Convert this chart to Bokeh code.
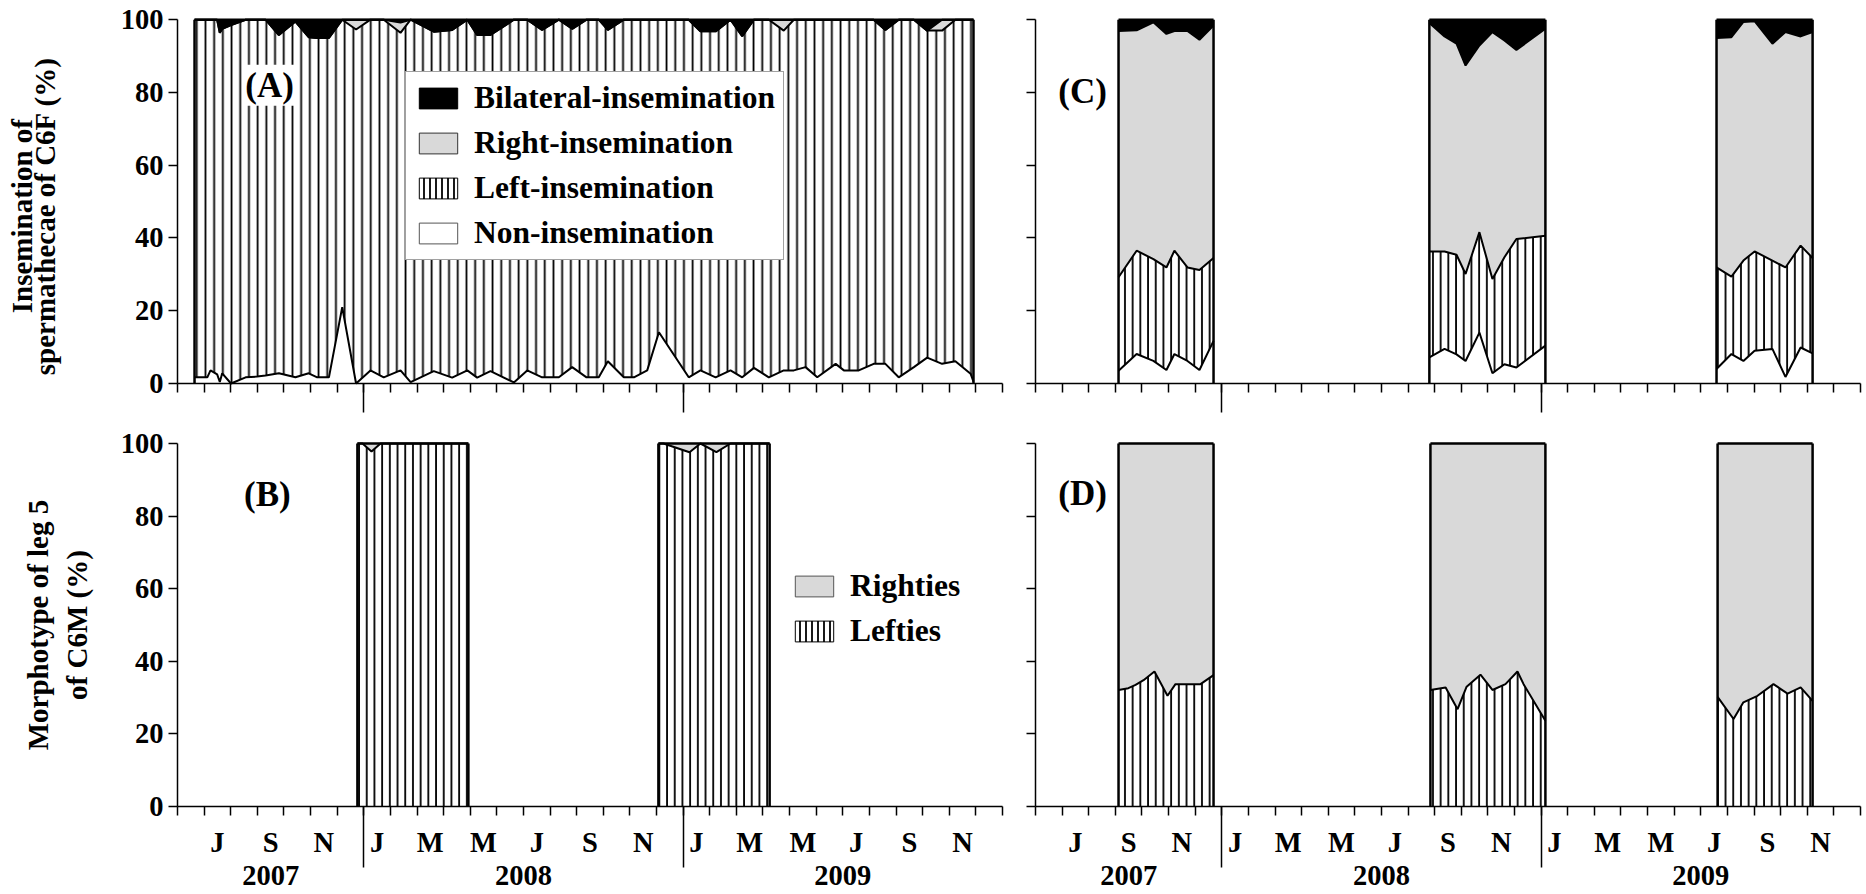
import numpy as np
from bokeh.plotting import figure
from bokeh.models import Range1d, FixedTicker, LinearAxis, Legend, LegendItem, Label
from bokeh.core.properties import value
from bokeh.layouts import row, column
from bokeh.embed import file_html
from bokeh.resources import INLINE

FONT = "Liberation Serif"
GREY = "#d9d9d9"
TICK_FS = "28.5px"

# ---------------- axis data (x = months since 1 June 2007; axis runs to end of Dec 2009)
month_bounds = list(range(0, 32))
year_bounds = [7, 19]
month_label_pos = [1.5, 3.5, 5.5, 7.5, 9.5, 11.5, 13.5, 15.5, 17.5, 19.5, 21.5, 23.5, 25.5, 27.5, 29.5]
month_labels = ["J", "S", "N", "J", "M", "M", "J", "S", "N", "J", "M", "M", "J", "S", "N"]
year_label_pos = [3.5, 13, 25]
year_labels = ["2007", "2008", "2009"]
y_ticks = [0, 20, 40, 60, 80, 100]

# ---------------- Panel A: insemination of spermathecae of C6F (%), continuous series
a_t = [0.64, 1.12, 1.24, 1.49, 1.59, 1.68, 2.01, 2.56, 2.99, 3.31,
       3.81, 4.43, 4.93, 5.25, 5.69, 6.19, 6.71, 7.25, 7.75, 8.38,
       8.76, 9.63, 10.32, 10.89, 11.26, 11.76, 12.64, 13.14, 13.70, 14.33,
       14.83, 15.37, 15.83, 16.17, 16.77, 17.15, 17.65, 18.09, 19.21, 19.65,
       20.22, 20.78, 21.22, 21.66, 22.22, 22.78, 23.16, 23.60, 24.04, 24.73,
       25.04, 25.60, 26.16, 26.60, 27.10, 27.67, 28.17, 28.73, 29.23, 29.80, 29.91]
a_non = [1.7, 1.7, 3.6, 2.5, 0.4, 2.8, 0.0, 1.7, 1.9, 2.2,
         2.8, 1.7, 2.8, 1.7, 1.7, 21.0, 0.0, 3.6, 1.7, 3.6,
         0.4, 3.4, 1.6, 3.6, 1.6, 3.4, 0.3, 3.6, 1.7, 1.7,
         4.5, 1.7, 1.7, 6.1, 1.7, 1.7, 3.6, 14.1, 1.7, 3.6,
         1.7, 3.6, 1.7, 4.3, 1.7, 3.6, 3.6, 4.5, 1.7, 5.4,
         3.6, 3.6, 5.4, 5.4, 1.7, 4.5, 7.1, 5.4, 6.1, 2.7, 0.5]
a_left = [98.3, 98.3, 96.4, 97.5, 96.0, 94.7, 98.5, 98.3, 98.1, 97.8,
          93.0, 97.8, 92.4, 93.3, 93.3, 79.0, 97.3, 96.4, 98.3, 92.8,
          99.6, 93.3, 95.6, 96.4, 94.2, 92.4, 99.7, 96.4, 95.5, 98.3,
          93.0, 98.3, 98.3, 91.1, 98.3, 98.3, 96.4, 85.9, 98.3, 93.2,
          95.1, 96.4, 93.8, 95.7, 98.3, 93.4, 96.4, 95.5, 98.3, 94.6,
          96.4, 96.4, 94.6, 91.8, 98.3, 95.5, 89.9, 91.6, 93.9, 97.3, 99.5]
a_right = [0, 0, 0, 0, 0, 0, 0, 0, 0, 0,
           0, 0, 0, 0, 0, 0, 2.7, 0, 0, 2.8,
           0, 0, 0, 0, 0, 0, 0, 0, 0, 0,
           0, 0, 0, 0, 0, 0, 0, 0, 0, 0,
           0, 0, 0, 0, 0, 3.0, 0, 0, 0, 0,
           0, 0, 0, 0, 0, 0, 0, 3.0, 0, 0, 0]
a_bil = [0, 0, 0, 0, 3.6, 2.5, 1.5, 0, 0, 0,
         4.2, 0.5, 4.8, 5.0, 5.0, 0, 0, 0, 0, 0.8,
         0, 3.3, 2.8, 0, 4.2, 4.2, 0, 0, 2.8, 0,
         2.5, 0, 0, 2.8, 0, 0, 0, 0, 0, 3.2,
         3.2, 0, 4.5, 0, 0, 0, 0, 0, 0, 0,
         0, 0, 0, 2.8, 0, 0, 3.0, 0, 0, 0, 0]

# ---------------- Panel B: morphotype of leg 5 of C6M (%), two sampling periods
b_t = [[6.76, 6.95, 7.29, 7.63, 10.93],
       [18.07, 18.26, 19.24, 19.65, 20.25, 20.78, 22.25]]
b_left = [[100, 100, 97.8, 100, 100],
          [100, 100, 97.6, 100, 97.6, 100, 100]]
b_right = [[0, 0, 2.2, 0, 0],
           [0, 0, 2.4, 0, 2.4, 0, 0]]

# ---------------- Panel C: insemination (%), three autumn periods
c_t = [[3.12, 3.80, 4.43, 4.92, 5.22, 5.71, 6.16, 6.69],
       [14.80, 15.37, 15.82, 16.16, 16.68, 17.17, 17.62, 18.07, 19.16],
       [25.59, 26.15, 26.60, 27.02, 27.69, 28.18, 28.75, 29.20]]
c_non = [[3.5, 8.1, 6.2, 3.7, 8.1, 6.2, 3.7, 11.7],
         [7.2, 9.5, 8.0, 6.2, 14.0, 2.8, 5.3, 4.4, 10.4],
         [4.0, 8.1, 6.2, 9.0, 9.5, 1.8, 9.9, 8.3]]
c_left = [[25.7, 28.4, 28.0, 28.2, 28.4, 25.7, 27.5, 22.8],
          [29.1, 26.8, 27.4, 23.9, 27.6, 25.9, 29.4, 35.3, 30.2],
          [27.9, 21.3, 27.6, 27.3, 24.3, 30.1, 28.0, 26.2]]
c_right = [[67.7, 60.6, 65.1, 64.2, 60.4, 65.0, 63.3, 63.9],
           [62.8, 59.1, 58.0, 57.3, 51.3, 67.9, 59.6, 52.0, 56.9],
           [63.1, 65.8, 65.6, 63.3, 59.6, 64.7, 57.5, 62.1]]
c_bil = [[3.1, 2.9, 0.7, 3.9, 3.1, 3.1, 5.5, 1.6],
         [0.9, 4.6, 6.6, 12.6, 7.1, 3.4, 5.7, 8.3, 2.5],
         [5.0, 4.8, 0.6, 0.4, 6.6, 3.4, 4.6, 3.4]]

# ---------------- Panel D: morphotype (%), three autumn periods
d_t = [[3.12, 3.49, 3.76, 4.06, 4.47, 4.96, 5.26, 5.52, 6.20, 6.69],
       [14.84, 15.41, 15.86, 16.20, 16.72, 17.17, 17.66, 18.11, 18.34, 19.16],
       [25.63, 26.23, 26.60, 27.13, 27.73, 28.26, 28.75, 29.20]]
d_left = [[32.1, 32.6, 33.5, 34.8, 37.2, 30.5, 33.7, 33.7, 33.7, 36.2],
          [32.1, 32.8, 26.8, 33.0, 36.3, 32.1, 33.7, 37.2, 33.7, 23.6],
          [30.2, 24.1, 28.7, 30.5, 33.7, 31.1, 32.8, 29.1]]
d_right = [[67.9, 67.4, 66.5, 65.2, 62.8, 69.5, 66.3, 66.3, 66.3, 63.8],
           [67.9, 67.2, 73.2, 67.0, 63.7, 67.9, 66.3, 62.8, 66.3, 76.4],
           [69.8, 75.9, 71.3, 69.5, 66.3, 68.9, 67.2, 70.9]]

HATCH = dict(fill_color="white", hatch_pattern="|", hatch_color="black", hatch_weight=1.8)
NAN = np.array([np.nan])

# pixel geometry of the page (origin top-left of the page)
PX_MONTH = 825 / 31.0          # px per month on both time axes


def make_fig(width, height, x_origin_px, y0_px, y100_px):
    """Frame fills the whole canvas; the axes are pinned at x=0 / y=0 inside it."""
    ppu = (y0_px - y100_px) / 100.0
    x_lo = -x_origin_px / PX_MONTH
    x_hi = (width - x_origin_px) / PX_MONTH
    y_hi = y0_px / ppu
    y_lo = (y0_px - height) / ppu
    p = figure(width=width, height=height, x_range=Range1d(x_lo, x_hi), y_range=Range1d(y_lo, y_hi),
               output_backend="svg", toolbar_location=None,
               x_axis_location=None, y_axis_location=None,
               min_border_left=0, min_border_right=0, min_border_top=0, min_border_bottom=0)
    p.outline_line_color = None
    p.background_fill_color = "white"
    p.border_fill_color = "white"
    p.xgrid.visible = False
    p.ygrid.visible = False
    return p


def txt(ax, size):
    ax.major_label_text_font = FONT
    ax.major_label_text_font_style = "bold"
    ax.major_label_text_font_size = size
    ax.major_label_text_color = "black"


def add_yaxis(p, labels):
    ax = LinearAxis(ticker=FixedTicker(ticks=y_ticks), bounds=(0, 100), fixed_location=0,
                    major_tick_out=9, major_tick_in=0, minor_tick_out=0, minor_tick_in=0,
                    axis_line_width=1.5, major_tick_line_width=1.5,
                    major_label_standoff=5)
    txt(ax, TICK_FS)
    if not labels:
        ax.major_label_overrides = {t: "" for t in y_ticks}
        ax.major_label_text_font_size = "0px"
        ax.major_label_standoff = 0
    p.add_layout(ax, "left")


def add_xaxis(p, sep_len):
    # minor ticks = month boundaries, long major ticks = year separators
    ax = LinearAxis(ticker=FixedTicker(ticks=year_bounds, minor_ticks=month_bounds), bounds=(0, 31),
                    fixed_location=0,
                    major_tick_out=sep_len, major_tick_in=0, minor_tick_out=9, minor_tick_in=0,
                    axis_line_width=1.5, major_tick_line_width=1.5, minor_tick_line_width=1.5,
                    major_label_standoff=0,
                    major_label_overrides={t: "" for t in year_bounds})
    txt(ax, "0px")
    p.add_layout(ax, "below")


def glyph_text(p, x, y, text, size, angle=0.0):
    p.text(x=x, y=y, text=text, angle=angle, text_align="center", text_baseline="middle",
           text_font=value(FONT), text_font_style="bold", text_font_size=value(size),
           text_color="black")


def add_time_labels(p):
    glyph_text(p, month_label_pos, [-9.9] * len(month_label_pos), month_labels, TICK_FS)
    glyph_text(p, year_label_pos, [-18.9] * len(year_label_pos), year_labels, TICK_FS)


def add_ytitle(p, lines, xs, y):
    glyph_text(p, xs, [y] * len(lines), lines, "29px", angle=np.pi / 2)


def panel_label(p, x, y, text, bg=None):
    lab = Label(x=x, y=y, text=text, text_align="center", text_baseline="middle",
                text_font=FONT, text_font_style="bold", text_font_size="35px", text_color="black")
    if bg:
        lab.background_fill_color = bg
        lab.padding = 1
    p.add_layout(lab)


def stack(p, t, layers, kinds, hscale):
    t = np.asarray(t, float)
    base = np.zeros_like(t)
    for vals, kind in zip(layers, kinds):
        top = base + np.asarray(vals, float)
        if kind == "hatch":
            p.varea(x=t, y1=base, y2=top, hatch_scale=hscale, **HATCH)
        else:
            p.varea(x=t, y1=base, y2=top, fill_color=kind)
        base = top
    cum = np.zeros_like(t)
    for vals in layers[:-1]:
        cum = cum + np.asarray(vals, float)
        p.line(t, cum, line_color="black", line_width=2)
    p.line(t, base, line_color="black", line_width=2.5)
    p.segment(x0=[t[0], t[-1]], y0=[0, 0], x1=[t[0], t[-1]], y1=[base[0], base[-1]],
              line_color="black", line_width=2.5)


def swatch(p, **kw):
    # legend key only (not drawn on the plot)
    return p.quad(left=NAN, right=NAN, top=NAN, bottom=NAN, line_width=1, **kw)


def legend(items, loc, pad, spacing):
    return Legend(items=items, location=loc, glyph_width=48, glyph_height=26, label_height=26,
                  label_standoff=12, spacing=spacing, padding=pad, margin=0,
                  label_text_font=FONT, label_text_font_style="bold", label_text_font_size="31.5px",
                  label_text_color="black")


# ---------------- Panel A  (canvas: x 0-1020, y 0-425; frame 0% at y=383, 100% at y=19.2, t=0 at x=177)
pA = make_fig(1020, 425, 177, 383.0, 19.2)
stack(pA, a_t, [a_non, a_left, a_right, a_bil], ["white", "hatch", GREY, "black"], 8.7)
add_yaxis(pA, True)
add_xaxis(pA, 29)
add_ytitle(pA, ["Insemination of", "spermathecae of C6F (%)"], [-5.84, -4.98], 46)
panel_label(pA, 3.46, 82.0, "(A)", bg="white")
rb = swatch(pA, fill_color="black", line_color="black")
rr = swatch(pA, fill_color=GREY, line_color="#333333")
rl = swatch(pA, line_color="black", hatch_scale=6, **HATCH)
rn = swatch(pA, fill_color="white", line_color="#555555")
legA = legend([LegendItem(label="Bilateral-insemination", renderers=[rb]),
               LegendItem(label="Right-insemination", renderers=[rr]),
               LegendItem(label="Left-insemination", renderers=[rl]),
               LegendItem(label="Non-insemination", renderers=[rn])], (405, 165), 8, 9)
legA.border_line_color = "#444444"
legA.border_line_width = 1
legA.background_fill_color = "white"
legA.background_fill_alpha = 1.0
pA.add_layout(legA)

# ---------------- Panel B  (canvas: y 425-894 -> local 0-469; 0% at 381, 100% at 18)
pB = make_fig(1020, 469, 177, 381.0, 18.0)
for t, l, r in zip(b_t, b_left, b_right):
    stack(pB, t, [l, r], ["hatch", GREY], 7.7)
add_yaxis(pB, True)
add_xaxis(pB, 61)
add_time_labels(pB)
add_ytitle(pB, ["Morphotype of leg 5", "of C6M (%)"], [-5.26, -3.76], 50)
panel_label(pB, 3.38, 86.0, "(B)")
qr = swatch(pB, fill_color=GREY, line_color="#555555")
ql = swatch(pB, line_color="black", hatch_scale=6, **HATCH)
legB = legend([LegendItem(label="Righties", renderers=[qr]),
               LegendItem(label="Lefties", renderers=[ql])], (790, 245), 0, 9)
legB.border_line_color = None
legB.background_fill_alpha = 0.0
pB.add_layout(legB)

# ---------------- Panel C  (canvas: x 1020-1866 -> t=0 at local x=15)
pC = make_fig(846, 425, 15, 383.0, 19.2)
for t, n, l, r, b in zip(c_t, c_non, c_left, c_right, c_bil):
    stack(pC, t, [n, l, r, b], ["white", "hatch", GREY, "black"], 7.7)
add_yaxis(pC, False)
add_xaxis(pC, 29)
panel_label(pC, 1.77, 80.3, "(C)")

# ---------------- Panel D
pD = make_fig(846, 469, 15, 381.0, 18.0)
for t, l, r in zip(d_t, d_left, d_right):
    stack(pD, t, [l, r], ["hatch", GREY], 7.7)
add_yaxis(pD, False)
add_xaxis(pD, 61)
add_time_labels(pD)
panel_label(pD, 1.77, 86.2, "(D)")

layout = row(column(pA, pB), column(pC, pD))
open("out.html", "w").write(file_html(layout, INLINE))
